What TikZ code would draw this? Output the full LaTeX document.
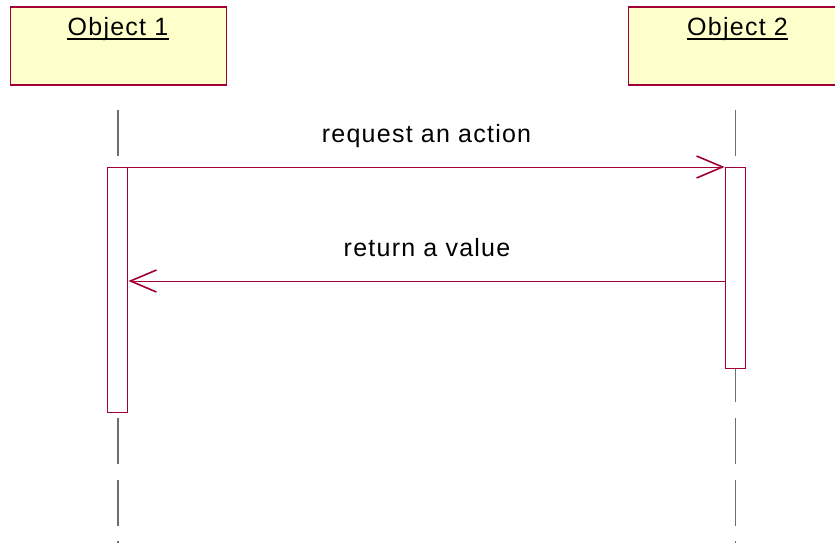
\documentclass[tikz,border=0pt]{standalone}
\usepackage{fontspec}
\setmainfont{Liberation Sans}
\newfontfamily\lab[LetterSpace=5]{Liberation Sans}
\usetikzlibrary{arrows.meta}
\definecolor{umlred}{RGB}{160,0,55}
\definecolor{umlfill}{RGB}{255,255,204}
\definecolor{lifegray}{RGB}{110,110,110}
\begin{document}
\begin{tikzpicture}[x=1pt,y=-1pt,
 objbox/.style={draw=umlred,fill=umlfill,line width=1.5pt,minimum width=216pt,minimum height=78pt,anchor=north west,inner sep=0pt},
 actbox/.style={draw=umlred,fill=white,line width=1.4pt,minimum width=20pt,anchor=north,inner sep=0pt},
 life/.style={draw=lifegray,line width=1.6pt,dash pattern=on 46pt off 15.6pt},
 msg/.style={draw=umlred,line width=1pt,-{Straight Barb[length=26pt,width=22pt,line width=1.6pt]}},
 lbl/.style={font=\lab\fontsize{25}{30}\selectfont,anchor=base,inner sep=0pt},
 uline/.style={draw=black,line width=2.3pt}]
\clip (0,0) rectangle (835,542);
% objects
\node[objbox] (obj1) at (9.5,6) {};
\node[objbox] (obj2) at (627.5,6) {};
\node[lbl] (t1) at (118,35) {Object 1};
\node[lbl] (t2) at (737.5,35) {Object 2};
\draw[uline] ([yshift=-3.7pt]t1.base west) -- ([yshift=-3.7pt]t1.base east);
\draw[uline] ([yshift=-3.7pt]t2.base west) -- ([yshift=-3.7pt]t2.base east);
% lifelines
\coordinate (l1top) at (117.7,110);
\coordinate (l1bot) at (117.7,560);
\coordinate (l2top) at (735.3,110);
\coordinate (l2bot) at (735.3,560);
\draw[life] (l1top) -- (l1bot);
\draw[life] (l2top) -- (l2bot);
% activations
\node[actbox,minimum height=245pt] (act1) at (117.7,167) {};
\node[actbox,minimum height=201pt] (act2) at (735.3,167) {};
% messages
\coordinate (r) at (0,281);
\draw[msg] (act1.north east) -- (act2.north west);
\draw[msg] (act2.west |- r) -- (act1.east |- r);
\node[lbl] (m1) at (426.5,142.3) {request an action};
\node[lbl] (m2) at (427,256.7) {return a value};
\end{tikzpicture}
\end{document}
